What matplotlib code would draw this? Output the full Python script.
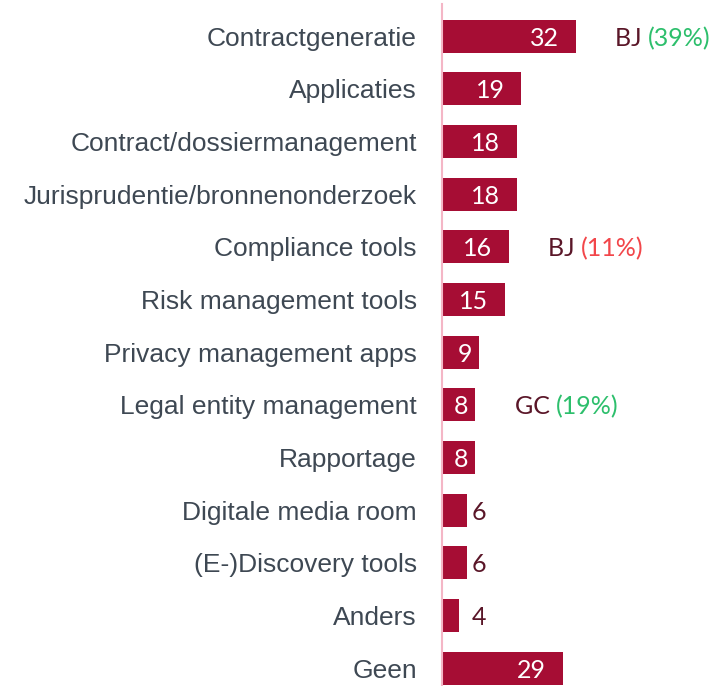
import matplotlib
matplotlib.use("Agg")
import matplotlib.pyplot as plt
import numpy as np

categories = [
    "Contractgeneratie",
    "Applicaties",
    "Contract/dossiermanagement",
    "Jurisprudentie/bronnenonderzoek",
    "Compliance tools",
    "Risk management tools",
    "Privacy management apps",
    "Legal entity management",
    "Rapportage",
    "Digitale media room",
    "(E-)Discovery tools",
    "Anders",
    "Geen",
]
values = [32, 19, 18, 18, 16, 15, 9, 8, 8, 6, 6, 4, 29]

# side notes: row, group, percentage, colour of the percentage
note_rows = [0, 4, 7]
note_groups = ["BJ", "BJ", "GC"]
note_pcts = ["(39%)", "(11%)", "(19%)"]
note_colors = ["#2dbf6c", "#f2464a", "#2dbf6c"]

bar_color = "#a60d34"
label_color = "#3e4853"
dark_text = "#5a1628"
num_font = "Lato"

fig = plt.figure(figsize=(7.15, 6.86), dpi=100)
ax = fig.add_axes([0.618, 0.0, 0.382, 0.994])

y = np.arange(len(categories))
ax.barh(y, values, height=0.63, color=bar_color, zorder=2)
ax.set_xlim(0, 65.4)
ax.set_ylim(12.34, -0.61)

ax.set_yticks(y)
ax.set_yticklabels(categories, fontsize=19, color=label_color, family="Liberation Sans")
ax.tick_params(axis="y", length=0, pad=18)
ax.set_xticks([])
for s in ["top", "right", "bottom"]:
    ax.spines[s].set_visible(False)
ax.spines["left"].set_color("#f4b6c6")
ax.spines["left"].set_linewidth(1.5)

va = "center_baseline"
for yi, v in zip(y, values):
    if v >= 10:
        ax.annotate(str(v), (v, yi), xytext=(-12, 0), textcoords="offset points",
                    ha="right", va=va, color="white", fontsize=18,
                    family=num_font)
    elif v >= 8:
        ax.annotate(str(v), (v, yi), xytext=(-5, 0), textcoords="offset points",
                    ha="right", va=va, color="white", fontsize=18,
                    family=num_font)
    else:
        ax.annotate(str(v), (8.8, yi), ha="center", va=va,
                    color=dark_text, fontsize=18, family=num_font)

fig.canvas.draw()
renderer = fig.canvas.get_renderer()
for r, g, p, c in zip(note_rows, note_groups, note_pcts, note_colors):
    t = ax.annotate(g + " ", (values[r] + 9.5, y[r]), ha="left", va=va,
                    color=dark_text, fontsize=18, family=num_font,
                    annotation_clip=False)
    w = t.get_window_extent(renderer).width * 72 / fig.dpi
    ax.annotate(p, (values[r] + 9.5, y[r]), xytext=(w, 0), textcoords="offset points",
                ha="left", va=va, color=c, fontsize=18, family=num_font,
                annotation_clip=False)

fig.savefig("out.png", dpi=100)
